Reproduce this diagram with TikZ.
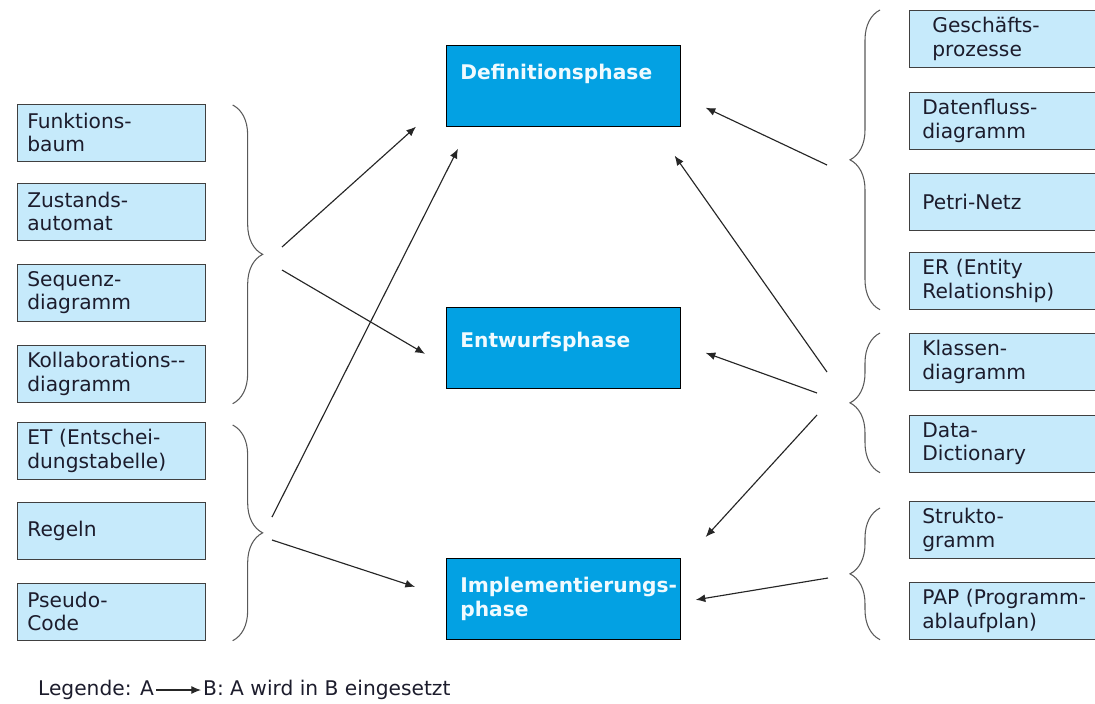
\documentclass[tikz,border=0pt]{standalone}
\usepackage{fontspec}
\setmainfont{DejaVu Sans}
\usetikzlibrary{positioning}
\usetikzlibrary{arrows,arrows.meta,shapes}
\usetikzlibrary{calc}
\usetikzlibrary{decorations.pathreplacing}
\definecolor{boxblue}{HTML}{C6EAFB}
\definecolor{phaseblue}{HTML}{03A1E3}
\definecolor{ink}{HTML}{1C1C2C}
\tikzstyle{toolbox}=[rectangle,draw=black!75,fill=boxblue,anchor=north west,minimum height=1.14cm,text width=3.36cm,inner xsep=0.2cm,inner ysep=0pt,align=left,text=ink]
\tikzstyle{rtoolbox}=[toolbox,text width=3.4cm,inner xsep=0.26cm]
\tikzstyle{phase}=[rectangle,draw=black,fill=phaseblue,anchor=north west,minimum height=1.62cm,text width=4.12cm,inner xsep=0.28cm,inner ysep=0pt,align=left,text=white!94!cyan,font=\fontsize{11.5}{14}\selectfont\bfseries]
\tikzstyle{edge} = [draw,-{Latex[length=5.5pt,width=4.5pt]},line width=0.65pt,black!85]
\tikzstyle{bracket} = [draw,gray!70!black,line width=0.6pt,decorate,decoration={brace,amplitude=0.6cm,aspect=0.5}]

\begin{document}
\begin{tikzpicture}[x=0.02cm, y=-0.02cm, font=\fontsize{11.5}{13.2}\selectfont]

  \useasboundingbox (0,0) rectangle (1095,703);

  % phases
  \node[phase, text depth=0.58cm] (def) at (446,45) {Definitionsphase};
  \node[phase, text depth=0.32cm] (ent) at (446,307) {Entwurfsphase};
  \node[phase] (imp) at (446,558) {\mbox{Implementierungs-}\\phase};

  % left column
  \foreach \y/\name/\label in {104/fb/{Funktions-\\baum}, 183/za/{Zustands-\\automat}, 264/sd/{Sequenz-\\diagramm}, 345/kd/{Kollaborations-{}-\\diagramm}, 422/et/{ET (Entschei-\\dungstabelle)}, 502/rg/{Regeln}, 583/pc/{Pseudo-\\Code}}
     \node[toolbox] (\name) at (17,\y) {\label};

  % right column
  \foreach \y/\name/\label in {10/gp/{\hspace*{0.2cm}Geschäfts-\\\hspace*{0.2cm}prozesse}, 92/df/{Datenfluss-\\diagramm}, 173/pn/{Petri-Netz}, 252/er/{ER (Entity\\Relationship)}, 333/kl/{Klassen-\\diagramm}, 415/dd/{Data-\\Dictionary}, 501/sg/{Strukto-\\gramm}, 582/pap/{PAP (Programm-\\ablaufplan)}}
     \node[rtoolbox] (\name) at (909,\y) {\label};

  % braces
  \draw[bracket] ($(fb.north east)+(27,1)$) -- ($(kd.south east)+(27,1)$);
  \draw[bracket] ($(et.north east)+(27,3)$) -- ($(pc.south east)+(27,0)$);
  \draw[bracket] ($(er.south west)+(-29,0)$) -- ($(gp.north west)+(-29,0)$);
  \draw[bracket] ($(dd.south west)+(-29,0)$) -- ($(kl.north west)+(-29,0)$);
  \draw[bracket] ($(pap.south west)+(-29,0)$) -- ($(sg.north west)+(-29,7)$);

  % arrow starts at the braces
  \coordinate (lt1) at (282,247);
  \coordinate (lt2) at (282,270);
  \coordinate (lb1) at (272,517);
  \coordinate (lb2) at (272,540);
  \coordinate (rt) at (827,165);
  \coordinate (rm1) at (827,372);
  \coordinate (rm2) at (817,393);
  \coordinate (rm3) at (817,415);
  \coordinate (rb) at (828,578);

  \draw[edge] (lt1) -- ($(def.south west)+(-30,0)$);
  \draw[edge] (lt2) -- ($(ent.west)+(-21,6)$);
  \draw[edge] (lb1) -- ($(def.south west)+(12,22)$);
  \draw[edge] (lb2) -- ($(imp.west)+(-31,-12)$);
  \draw[edge] (rt) -- ($(def.south east)+(25,-19)$);
  \draw[edge] (rm1) -- ($(def.south east)+(-6,29)$);
  \draw[edge] (rm2) -- ($(ent.east)+(25,5)$);
  \draw[edge] (rm3) -- ($(imp.north east)+(25,-21)$);
  \draw[edge] (rb) -- ($(imp.east)+(15,1)$);

  % legend
  \node[anchor=west, inner sep=1pt, text=ink] (lega) at (36,690) {Legende: A};
  \node[right=0.9cm of lega, inner sep=1pt, text=ink] (legb) {B: A wird in B eingesetzt};
  \draw[edge] (lega) -- (legb);

\end{tikzpicture}
\end{document}
